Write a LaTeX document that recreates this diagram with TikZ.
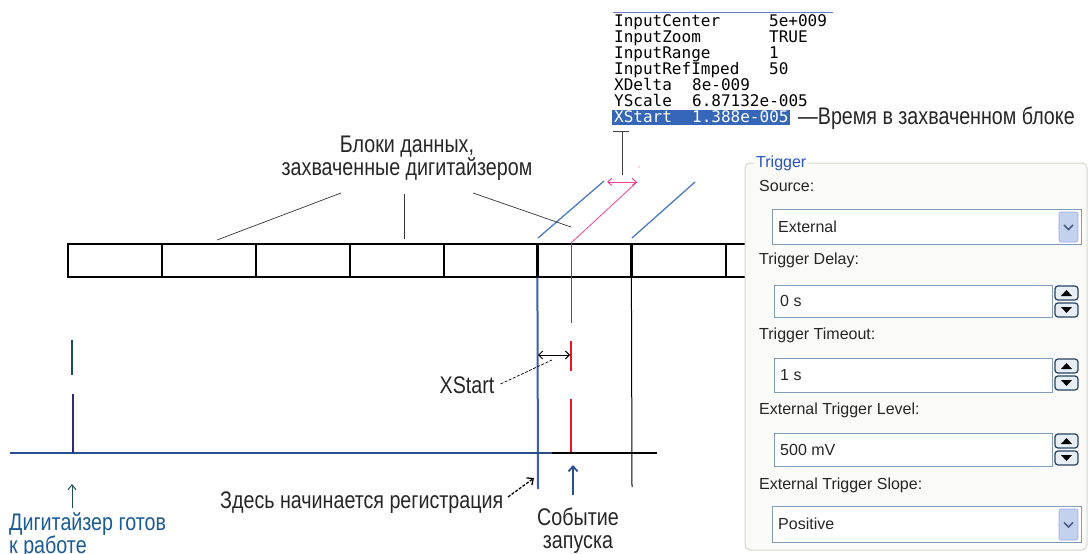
\documentclass[tikz,border=0pt]{standalone}
\usepackage{fontspec}
\setmainfont{Liberation Sans}
\newfontfamily\cond[FakeStretch=0.82]{Liberation Sans}
\newfontfamily\mono{DejaVu Sans Mono}
\usetikzlibrary{arrows.meta}
\definecolor{lineblue}{HTML}{3A5FB0}
\definecolor{diagblue}{HTML}{4A7AC8}
\definecolor{axisblue}{HTML}{2A4F8F}
\definecolor{navy}{HTML}{2B2B80}
\definecolor{tealc}{HTML}{1E5050}
\definecolor{txtblue}{HTML}{1A5A96}
\definecolor{pinkc}{HTML}{F0409A}
\definecolor{redc}{HTML}{E8141E}
\definecolor{hiblue}{HTML}{3566B8}
\definecolor{panelbg}{HTML}{FAFAF8}
\definecolor{panelborder}{HTML}{D5D8CC}
\definecolor{trigblue}{HTML}{2A55C0}
\definecolor{boxborder}{HTML}{7F9DB9}
\definecolor{ddfill}{HTML}{C3D1EC}
\definecolor{ddline}{HTML}{4A5E88}
\definecolor{spinborder}{HTML}{25415F}
\definecolor{spinfill}{HTML}{E8EEF5}
\tikzset{
  lbl/.style={font=\cond\fontsize{24}{23}\selectfont, inner sep=0pt, text=black!85},
  monotxt/.style={font=\mono\fontsize{16}{16}\selectfont, inner sep=0pt, anchor=base west},
  blk/.style={draw, line width=1.2pt, minimum width=94pt, minimum height=33pt, inner sep=0pt},
  ptr/.style={draw=black!80, line width=0.7pt},
  uilbl/.style={font=\fontsize{16}{18}\selectfont, inner sep=0pt, anchor=west, text=black!85},
  inbox/.style={draw=boxborder, fill=white, line width=1pt, anchor=north west, inner sep=0pt},
  ddbtn/.style={draw=ddfill!80!blue, fill=ddfill, rounded corners=2pt, line width=0.6pt},
  spin/.style={draw=spinborder, fill=spinfill, rounded corners=3pt, line width=1.2pt},
}
\begin{document}
\begin{tikzpicture}[x=1pt,y=-1pt]
\useasboundingbox (0,0) rectangle (1090,554);

% ---------- top parameter list ----------
\draw[draw=boxborder!80!blue, line width=0.8pt] (613,12) -- (833,12);
\fill[hiblue] (612,110) rectangle (790,125);
\node[monotxt] (p1) at (614,27) {InputCenter};
\node[monotxt] (v1) at (769,27) {5e+009};
\node[monotxt] (p2) at (614,42.5) {InputZoom};
\node[monotxt] (v2) at (769,42.5) {TRUE};
\node[monotxt] (p3) at (614,58) {InputRange};
\node[monotxt] (v3) at (769,58) {1};
\node[monotxt] (p4) at (614,74) {InputRefImped};
\node[monotxt] (v4) at (769,74) {50};
\node[monotxt] (p5) at (614,90) {XDelta};
\node[monotxt] (v5) at (692,90) {8e-009};
\node[monotxt] (p6) at (614,106) {YScale};
\node[monotxt] (v6) at (692,106) {6.87132e-005};
\node[monotxt, text=white] (p7) at (614,122) {XStart};
\node[monotxt, text=white] (v7) at (692,122) {1.388e-005};
\node[lbl, anchor=west] (vremya) at (798,118) {—Время в захваченном блоке};

% tick under XStart
\coordinate (tkl) at (613,131);
\coordinate (tkr) at (629,131);
\coordinate (tkt) at (622,131);
\coordinate (tkb) at (622,175);
\draw[black!75, line width=1pt] (tkl) -- (tkr);
\draw[black!75, line width=1pt] (tkt) -- (tkb);

% pink double arrow and pink line
\coordinate (pkl) at (607,182);
\coordinate (pkr) at (637,182);
\coordinate (rtop) at (571,243);
\draw[pinkc, line width=1pt, {Straight Barb[length=4pt,width=7pt]}-{Straight Barb[length=4pt,width=7pt]}] (pkl) -- (pkr);
\draw[pinkc, line width=0.8pt] (rtop) -- (pkr);
\fill[pinkc] (639,167) circle (0.7pt);

% blue diagonals
\coordinate (d1a) at (538,238);
\coordinate (d1b) at (604,181);
\coordinate (d2a) at (632,238);
\coordinate (d2b) at (695,182);
\draw[diagblue, line width=1.3pt, line cap=round] (d1a) -- (d1b);
\draw[diagblue, line width=1.3pt, line cap=round] (d2a) -- (d2b);

% ---------- blocks label ----------
\node[lbl, align=center] (bloki) at (407,158) {Блоки данных,\\захваченные дигитайзером};
\coordinate (pa1) at (341,193);
\coordinate (pa2) at (217,240);
\coordinate (pb1) at (404,194);
\coordinate (pb2) at (404,239);
\coordinate (pc1) at (473,193);
\coordinate (pc2) at (571,227);
\draw[ptr] (pa1) -- (pa2);
\draw[ptr] (pb1) -- (pb2);
\draw[ptr] (pc1) -- (pc2);

% ---------- data blocks ----------
\foreach \i in {0,...,7}{
  \node[blk] (b\i) at ({115+94*\i},260.5) {};
}
\draw[line width=2.2pt] (b5.north west) -- (b5.south west);
\draw[line width=2.2pt] (b6.north west) -- (b6.south west);

% ---------- verticals ----------
\coordinate (bvb) at (538,489);
\coordinate (kvb) at (632,487);
\draw[lineblue, line width=2pt] (b5.south west) -- (bvb);
\draw[black, line width=1pt] (b6.south west) -- (kvb);

% red trigger line
\coordinate (r1) at (571,323);
\coordinate (r2a) at (571,341);
\coordinate (r2b) at (571,371);
\coordinate (r3a) at (571,399);
\coordinate (r3b) at (571,452);
\draw[redc, line width=0.8pt] (rtop) -- (r1);
\draw[redc, line width=2.2pt] (r2a) -- (r2b);
\draw[redc, line width=2.2pt] (r3a) -- (r3b);

% ---------- axis ----------
\coordinate (ax0) at (10,453);
\coordinate (ax1) at (552,453);
\coordinate (ax2) at (657,453);
\draw[axisblue, line width=1.8pt] (ax0) -- (ax1);
\draw[black, line width=1.6pt] (ax1) -- (ax2);

% left ticks
\coordinate (t1a) at (72,340);
\coordinate (t1b) at (72,375);
\coordinate (t2a) at (73,394);
\coordinate (t2b) at (73,453);
\draw[tealc, line width=1.8pt] (t1a) -- (t1b);
\draw[navy, line width=2pt] (t2a) -- (t2b);

% XStart arrow
\coordinate (xsl) at (538,355);
\coordinate (xsr) at (570,355);
\draw[black, line width=0.9pt, {Straight Barb[length=4pt,width=8pt]}-{Straight Barb[length=4pt,width=8pt]}] (xsl) -- (xsr);
\node[lbl] (xstart) at (467,385) {XStart};
\coordinate (xsp) at (552,360);
\draw[black, line width=0.7pt, dash pattern=on 3pt off 1.5pt] (xstart.east) ++(6,-1) -- (xsp);

% bottom labels
\node[lbl, anchor=west, text=txtblue, align=left] (ready) at (9,536) {Дигитайзер готов\\к работе};
\coordinate (ua1) at (72,508);
\coordinate (ua2) at (72,484);
\draw[tealc, line width=0.9pt, -{Straight Barb[length=5pt,width=8pt]}] (ua1) -- (ua2);

\node[lbl, anchor=west] (zdes) at (220,503) {Здесь начинается регистрация};
\coordinate (za1) at (508,497);
\coordinate (za2) at (534,478);
\draw[black, line width=1.3pt, dash pattern=on 3pt off 1.5pt, -{Straight Barb[length=5pt,width=9pt]}] (za1) -- (za2);

\node[lbl, align=center] (event) at (578,531) {Событие\\запуска};
\coordinate (ea1) at (573,495);
\coordinate (ea2) at (573,465);
\draw[axisblue, line width=1.8pt, -{Straight Barb[length=5pt,width=9pt]}] (ea1) -- (ea2);

% ---------- Trigger panel ----------
\draw[panelborder, fill=panelbg, rounded corners=5pt, line width=1pt] (745,163) rectangle (1087,550);
\node[uilbl, fill=panelbg, inner xsep=2pt, text=trigblue] (trig) at (754,163) {Trigger};

\node[uilbl] (lsrc) at (759,186) {Source:};
\node[inbox, minimum width=309pt, minimum height=35pt] (src) at (772,209) {};
\node[uilbl] (vsrc) at (778,226.5) {External};
\draw[ddbtn] (1059,212) rectangle (1078,242);
\draw[ddline, line width=1.5pt] (1064,225) -- (1068.5,229.5) -- (1073,225);

\node[uilbl] (ldel) at (759,260) {Trigger Delay:};
\node[inbox, minimum width=278pt, minimum height=32pt] (del) at (774,285) {};
\node[uilbl] (vdel) at (780,301) {0 s};

\node[uilbl] (ltmo) at (759,335) {Trigger Timeout:};
\node[inbox, minimum width=278pt, minimum height=34pt] (tmo) at (774,358) {};
\node[uilbl] (vtmo) at (780,375) {1 s};

\node[uilbl] (llev) at (759,410) {External Trigger Level:};
\node[inbox, minimum width=278pt, minimum height=33pt] (lev) at (774,433) {};
\node[uilbl] (vlev) at (780,449.5) {500 mV};

\node[uilbl] (lslp) at (759,485) {External Trigger Slope:};
\node[inbox, minimum width=309pt, minimum height=36pt] (slp) at (772,506) {};
\node[uilbl] (vslp) at (778,524) {Positive};
\draw[ddbtn] (1059,509) rectangle (1078,540);
\draw[ddline, line width=1.5pt] (1064,522.5) -- (1068.5,527) -- (1073,522.5);

% spin buttons
\foreach \y in {285,358,433}{
  \draw[spin] (1055,\y+1) rectangle (1078,\y+15);
  \draw[spin] (1055,\y+18) rectangle (1078,\y+32);
  \fill[black] (1061,\y+11) -- (1072,\y+11) -- (1066.5,\y+5) -- cycle;
  \fill[black] (1061,\y+22) -- (1072,\y+22) -- (1066.5,\y+28) -- cycle;
}
\end{tikzpicture}
\end{document}
